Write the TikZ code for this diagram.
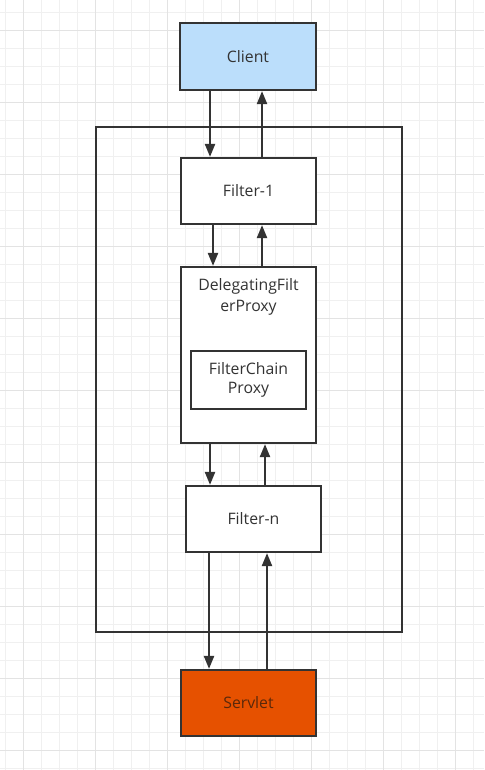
\documentclass[tikz,border=0pt]{standalone}
\usepackage{fontspec}
\setmainfont{Open Sans}
\usetikzlibrary{arrows.meta,calc}
\definecolor{ln}{HTML}{333333}
\definecolor{clientfill}{HTML}{BBDEFB}
\definecolor{servletfill}{HTML}{E65100}
\definecolor{gridminor}{HTML}{F0F0F0}
\definecolor{gridmajor}{HTML}{E3E3E3}
\tikzset{
  box/.style={draw=ln, line width=2.2pt, rectangle, minimum width=135pt, minimum height=66pt, inner sep=0pt, font=\fontsize{15.8}{19}\selectfont, text=ln},
  arr/.style={draw=ln, line width=2.2pt, -{Triangle[length=13pt,width=10pt]}},
}
\begin{document}
\begin{tikzpicture}[x=1pt,y=-1pt]
\useasboundingbox (0,0) rectangle (484,770);
\fill[white] (0,0) rectangle (484,770);
% grid
\foreach \i in {0,...,27} {
  \pgfmathsetmacro{\gx}{5+18*\i}
  \draw[gridminor, line width=0.8pt] (\gx,0) -- (\gx,770);
}
\foreach \i in {0,...,43} {
  \pgfmathsetmacro{\gy}{12+18*\i}
  \draw[gridminor, line width=0.8pt] (0,\gy) -- (484,\gy);
}
\foreach \i in {0,...,6} {
  \pgfmathsetmacro{\gx}{23+72*\i}
  \draw[gridmajor, line width=0.8pt] (\gx,0) -- (\gx,770);
}
\foreach \i in {0,...,10} {
  \pgfmathsetmacro{\gy}{30+72*\i}
  \draw[gridmajor, line width=0.8pt] (0,\gy) -- (484,\gy);
}
% outer frame
\node[draw=ln, line width=2.2pt, minimum width=306pt, minimum height=505pt, inner sep=0pt] (frame) at (249,379.5) {};
% nodes
\node[box, fill=clientfill, minimum width=136pt, minimum height=67pt] (client) at (248,56.5) {Client};
\node[box, fill=white] (f1) at (248.5,191) {Filter-1};
\node[box, fill=white, minimum height=176pt] (dfp) at (248.5,355) {};
\node[text=ln, font=\fontsize{15.8}{20.5}\selectfont, align=center, inner sep=0pt] (dfplabel) at (248.5,297) {DelegatingFilt\\erProxy};
\node[box, fill=white, minimum width=115pt, minimum height=58pt, align=center, font=\fontsize{15.8}{19.5}\selectfont] (fcp) at (248.5,380) {FilterChain\\Proxy};
\node[box, fill=white] (fn) at (253.5,519) {Filter-n};
\node[box, fill=servletfill, text={rgb,255:red,90;green,40;blue,10}] (servlet) at (248.5,703) {Servlet};
% connectors
\draw[arr] ([xshift=-38pt]client.south) coordinate (a1) -- (a1 |- f1.north);
\draw[arr] ([xshift=13.5pt]f1.north) coordinate (b1) -- (b1 |- client.south);
\draw[arr] ([xshift=-35.5pt]f1.south) coordinate (a2) -- (a2 |- dfp.north);
\draw[arr] ([xshift=13.5pt]dfp.north) coordinate (b2) -- (b2 |- f1.south);
\draw[arr] ([xshift=-38.5pt]dfp.south) coordinate (a3) -- (a3 |- fn.north);
\draw[arr] ([xshift=11.5pt]fn.north) coordinate (b3) -- (b3 |- dfp.south);
\draw[arr] ([xshift=-44.5pt]fn.south) coordinate (a4) -- (a4 |- servlet.north);
\draw[arr] ([xshift=18.5pt]servlet.north) coordinate (b4) -- (b4 |- fn.south);
\end{tikzpicture}
\end{document}
